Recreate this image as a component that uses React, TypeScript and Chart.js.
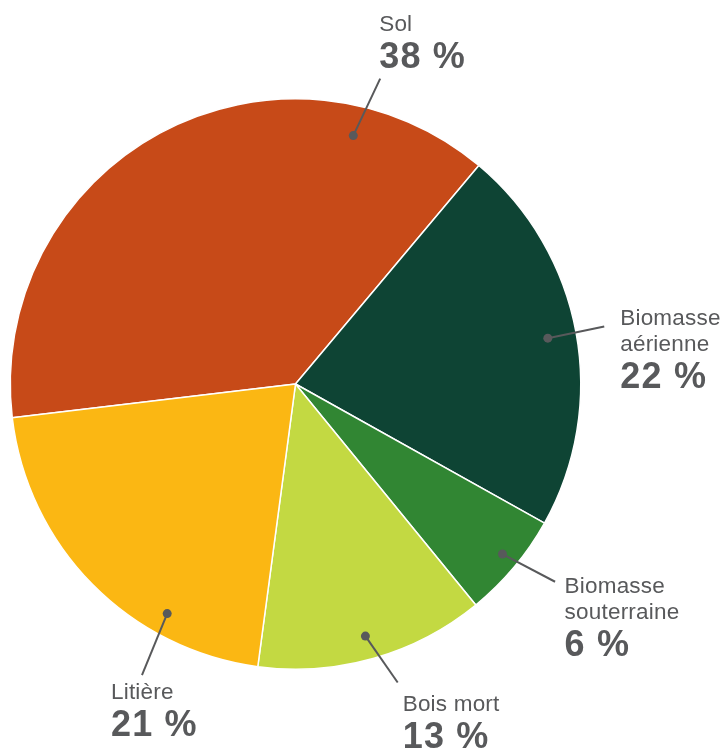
import React, { useEffect, useRef } from "react";
import { Chart, registerables } from "chart.js";

Chart.register(...registerables);

const categories = ["Sol", "Biomasse aérienne", "Biomasse souterraine", "Bois mort", "Litière"];
const labelLines = [["Sol"], ["Biomasse", "aérienne"], ["Biomasse", "souterraine"], ["Bois mort"], ["Litière"]];
const values = [38, 22, 6, 13, 21];
const percentLabels = ["38 %", "22 %", "6 %", "13 %", "21 %"];
const colors = ["#C74A18", "#0E4434", "#318633", "#C3D942", "#FBB713"];

// Annotation layout (polar, relative to pie centre/radius): dot angle & radius fraction,
// leader end angle & radius fraction, text offset from leader end.
const dotAngles = [-76.9, -10.3, 39.4, 74.5, 119.2];
const dotRadii = [0.894, 0.899, 0.939, 0.917, 0.922];
const endAngles = [-74.5, -10.55, 37.3, 71.1, 117.8];
const endRadii = [1.111, 1.101, 1.144, 1.106, 1.154];
const textDx = [-1, 16, 9.5, 5, -31];
const textDy = [-48, -1, 11, 28.3, 24.3];

const TEXT = "#58595B";

const calloutPlugin = {
  id: "callouts",
  afterDatasetsDraw(chart: any) {
    const meta = chart.getDatasetMeta(0);
    const ctx = chart.ctx as any;
    ctx.save();
    meta.data.forEach((arc: any, i: number) => {
      const { x, y, outerRadius } = arc.getProps(["x", "y", "outerRadius"], true);
      const da = (dotAngles[i] * Math.PI) / 180;
      const ea = (endAngles[i] * Math.PI) / 180;
      const dx = x + Math.cos(da) * outerRadius * dotRadii[i];
      const dy = y + Math.sin(da) * outerRadius * dotRadii[i];
      const ex = x + Math.cos(ea) * outerRadius * endRadii[i];
      const ey = y + Math.sin(ea) * outerRadius * endRadii[i];
      ctx.strokeStyle = TEXT;
      ctx.lineWidth = 2;
      ctx.beginPath();
      ctx.moveTo(dx, dy);
      ctx.lineTo(ex, ey);
      ctx.stroke();
      ctx.fillStyle = TEXT;
      ctx.beginPath();
      ctx.arc(dx, dy, 4.5, 0, Math.PI * 2);
      ctx.fill();

      const tx = ex + textDx[i];
      let ty = ey + textDy[i];
      ctx.textAlign = "left";
      ctx.textBaseline = "alphabetic";
      ctx.letterSpacing = "0.2px";
      ctx.font = "22.5px 'Liberation Sans', Arial, sans-serif";
      const lines = labelLines[i];
      lines.forEach((ln, j) => {
        ctx.fillText(ln, tx, ty + j * 26);
      });
      ty += (lines.length - 1) * 26 + 37;
      ctx.letterSpacing = "1.2px";
      ctx.font = "bold 36px 'Liberation Sans', Arial, sans-serif";
      ctx.fillText(percentLabels[i], tx, ty);
      ctx.letterSpacing = "0px";
    });
    ctx.restore();
  },
};

export default function App() {
  const ref = useRef<HTMLCanvasElement>(null);
  useEffect(() => {
    if (!ref.current) return;
    const chart = new Chart(ref.current, {
      type: "pie",
      data: {
        labels: categories,
        datasets: [
          {
            data: values,
            backgroundColor: colors,
            borderColor: "#ffffff",
            borderWidth: 1.5,
          },
        ],
      },
      options: {
        animation: false,
        responsive: false,
        rotation: 263.2,
        layout: { padding: { left: 9, right: 140, top: 98, bottom: 78 } },
        plugins: {
          legend: { display: false },
          tooltip: { enabled: false },
        },
      },
      plugins: [calloutPlugin],
    });
    return () => chart.destroy();
  }, []);
  return (
    <div style={{ position: "absolute", left: 0, top: 0, width: 722, height: 748 }}>
      <canvas ref={ref} width={722} height={748} style={{ width: 722, height: 748 }} />
    </div>
  );
}
